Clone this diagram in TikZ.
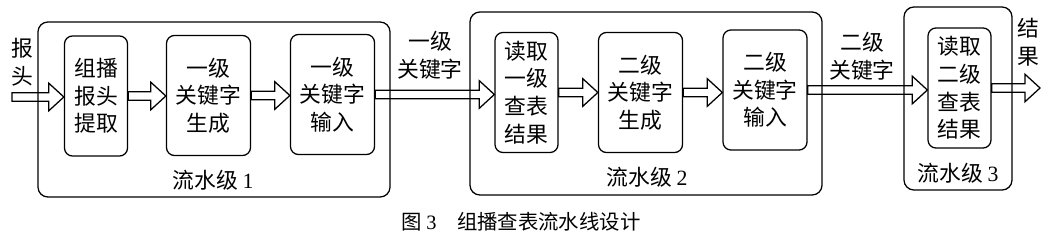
\documentclass[tikz,border=0pt]{standalone}
\usepackage{fontspec}
\setmainfont{Liberation Serif}
\newfontfamily\cjk{Noto Sans CJK SC}
\usetikzlibrary{calc}
\begin{document}
\begin{tikzpicture}[x=0.025cm,y=-0.025cm,
  stagebox/.style={draw, line width=0.9pt, rounded corners=0.25cm, minimum width=8.8cm, minimum height=4.5cm},
  stepbox/.style={draw, line width=0.9pt, rounded corners=0.2cm, align=center, minimum height=3cm,
    font=\cjk\fontsize{15.5}{19.6}\selectfont},
  lbl/.style={align=center, inner sep=0pt, font=\cjk\fontsize{15.5}{19.6}\selectfont},
  fatarrow/.style={line width=0.9pt, line join=miter, to path={
    let \p1=(\tikztostart), \p2=(\tikztotarget) in
    (\x1,\y1+3pt) -- (\x2-10.7pt,\y1+3pt) -- (\x2-10.7pt,\y1+9.8pt) -- (\x2,\y1)
    -- (\x2-10.7pt,\y1-9.8pt) -- (\x2-10.7pt,\y1-3pt) -- (\x1,\y1-3pt) -- cycle}}]
\useasboundingbox (0,0) rectangle (1051,241);
% stage frames
\node[stagebox, minimum height=4.375cm] (s1) at (214,109.5) {};
\node[stagebox, minimum height=4.575cm] (s2) at (646,103.5) {};
\node[stagebox, minimum width=2.7cm, minimum height=4.575cm] (s3) at (958,98.5) {};
\node[lbl] (l1) at (213,180) {流水级 {\rmfamily 1}};
\node[lbl] (l2) at (647,177) {流水级 {\rmfamily 2}};
\node[lbl] (l3) at (958,173) {流水级 {\rmfamily 3}};
% steps
\node[stepbox, minimum width=1.575cm] (a) at (96,96) {组播\\报头\\提取};
\node[stepbox, minimum width=2.1cm] (b) at (208.5,95.5) {一级\\关键字\\生成};
\node[stepbox, minimum width=2.1cm] (c) at (332.5,94.5) {一级\\关键字\\输入};
\node[stepbox, minimum width=1.575cm] (d) at (526.5,92.5) {读取\\一级\\查表\\结果};
\node[stepbox, minimum width=2.1cm] (e) at (640.5,92.5) {二级\\关键字\\生成};
\node[stepbox, minimum width=2.1cm] (f) at (765,90) {二级\\关键字\\输入};
\node[stepbox, minimum width=1.575cm] (g) at (959.5,88) {读取\\二级\\查表\\结果};
% in and out
\coordinate (in) at (12,97);
\coordinate (out) at (1040,88);
\node[lbl] (hdr) at (22,62) {报\\头};
\node[lbl] (k1) at (430,55) {一级\\关键字};
\node[lbl] (k2) at (862,56) {二级\\关键字};
\node[lbl] (res) at (1028,42) {结\\果};
\draw[fatarrow] (in) to (a.west);
\draw[fatarrow] (a.east) to (b.west);
\draw[fatarrow] (b.east) to (c.west);
\draw[fatarrow] (c.east) to (d.west);
\draw[fatarrow] (d.east) to (e.west);
\draw[fatarrow] (e.east) to (f.west);
\draw[fatarrow] (f.east) to (g.west);
\draw[fatarrow] (g.east) to (out);
% caption
\node[font=\cjk\fontsize{14.5}{16}\selectfont] (cap) at (521,222) {图 {\rmfamily 3}\quad 组播查表流水线设计};
\end{tikzpicture}
\end{document}
